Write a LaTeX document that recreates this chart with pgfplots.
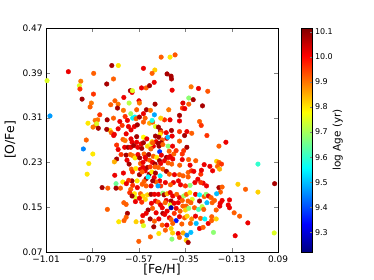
\documentclass[border=0pt]{standalone}
\usepackage{pgfplots}
\pgfplotsset{compat=1.18}
\usepackage{fontspec}
\setmainfont{DejaVu Sans}
\begin{document}
\begin{tikzpicture}
\useasboundingbox (-46bp,-28bp) rectangle (328bp,252bp);
\begin{axis}[
  at={(0,0)}, anchor=south west,
  scale only axis, width=232bp, height=224bp,
  xmin=-1.01, xmax=0.09, ymin=0.07, ymax=0.47,
  xtick={-1.01,-0.79,-0.57,-0.35,-0.13,0.09},
  xticklabels={−1.01,−0.79,−0.57,−0.35,−0.13,0.09},
  ytick={0.07,0.15,0.23,0.31,0.39,0.47},
  yticklabels={0.07,0.15,0.23,0.31,0.39,0.47},
  tick label style={font=\fontsize{9}{10}\selectfont},
  label style={font=\fontsize{12.5}{14}\selectfont},
  xlabel style={yshift=5bp},
  axis line style={line width=0.8bp},
  major tick length=4bp,
  xlabel={[Fe/H]}, ylabel={[O/Fe]},
  colormap/jet,
  point meta min=9.222, point meta max=10.115,
  colorbar,
  colorbar style={
    at={(parent axis.north east)}, anchor=north west, xshift=15bp,
    width=11bp,
    ytick={9.3,9.4,9.5,9.6,9.7,9.8,9.9,10.0,10.1},
    yticklabels={9.3,9.4,9.5,9.6,9.7,9.8,9.9,10.0,10.1},
    ytick pos=right, yticklabel pos=right, ytick align=inside,
    major tick length=3bp,
    yticklabel style={font=\fontsize{8}{9}\selectfont, xshift=-1bp},
    ylabel={log Age (yr)},
    ylabel style={at={(axis description cs:3.3,0.5)}, anchor=center, font=\fontsize{10.5}{12}\selectfont},
  },
]
\addplot[only marks, scatter, mark=*, mark size=2.3bp, point meta=explicit,
  scatter/use mapped color={draw=mapped color, fill=mapped color}]
  table[x=x, y=y, meta=a] {
x y a
-0.464 0.418 9.92
-0.422 0.418 9.80
-0.398 0.422 9.93
-0.698 0.403 10.08
-0.667 0.403 9.80
-0.904 0.392 10.02
-1.005 0.376 9.75
-0.784 0.389 9.92
-0.548 0.398 10.02
-0.494 0.395 9.82
-0.507 0.389 9.92
-0.436 0.388 10.08
-0.417 0.384 10.08
-0.415 0.379 10.08
-0.845 0.375 9.90
-0.690 0.379 9.92
-0.722 0.370 10.08
-0.535 0.363 9.92
-0.557 0.363 10.02
-0.519 0.367 10.08
-0.497 0.373 10.02
-0.852 0.367 9.75
-0.849 0.361 9.96
-0.785 0.352 9.96
-0.839 0.343 10.08
-0.795 0.336 9.90
-0.801 0.329 9.92
-0.412 0.359 10.02
-0.322 0.365 9.90
-0.287 0.362 10.02
-0.243 0.357 9.93
-0.610 0.358 10.08
-0.602 0.355 10.02
-0.600 0.358 9.75
-0.641 0.346 10.02
-0.683 0.340 9.92
-0.333 0.345 9.68
-0.312 0.342 10.08
-0.703 0.333 9.92
-0.616 0.336 9.72
-0.569 0.340 10.02
-0.567 0.336 9.90
-0.493 0.334 10.08
-0.361 0.336 10.03
-0.333 0.334 9.92
-0.268 0.331 10.08
-0.668 0.334 9.90
-0.671 0.327 10.08
-0.643 0.323 9.90
-0.608 0.317 9.70
-0.580 0.324 9.92
-0.534 0.324 10.08
-0.515 0.323 9.90
-0.496 0.315 9.48
-0.428 0.324 9.90
-0.363 0.327 9.96
-0.352 0.326 10.02
-0.377 0.314 10.08
-0.377 0.304 10.02
-0.548 0.317 10.02
-0.540 0.309 9.92
-0.635 0.312 9.96
-0.599 0.309 9.55
-0.589 0.311 9.55
-0.624 0.305 10.02
-0.583 0.308 9.92
-0.567 0.311 10.08
-0.755 0.315 9.96
-0.720 0.306 10.08
-0.690 0.309 9.92
-0.811 0.300 9.80
-0.777 0.305 9.90
-0.765 0.306 9.90
-0.991 0.313 9.47
-0.282 0.303 9.92
-0.274 0.296 9.96
-0.448 0.306 9.96
-0.422 0.306 10.02
-0.466 0.309 9.82
-0.773 0.297 9.92
-0.787 0.293 9.90
-0.770 0.299 9.75
-0.762 0.291 10.08
-0.706 0.287 9.80
-0.722 0.289 10.08
-0.700 0.283 9.92
-0.686 0.280 10.02
-0.649 0.296 9.96
-0.619 0.294 10.02
-0.607 0.288 10.02
-0.591 0.294 10.02
-0.577 0.297 10.08
-0.548 0.302 9.92
-0.519 0.300 9.85
-0.504 0.302 9.92
-0.491 0.294 9.75
-0.507 0.305 9.58
-0.477 0.293 10.08
-0.467 0.287 10.08
-0.464 0.284 9.92
-0.469 0.280 9.80
-0.440 0.283 10.02
-0.415 0.287 10.08
-0.377 0.285 9.96
-0.353 0.278 10.08
-0.342 0.285 10.02
-0.319 0.282 9.92
-0.247 0.278 9.96
-0.660 0.303 10.02
-0.668 0.290 10.02
-0.630 0.281 10.02
-0.819 0.270 9.92
-0.689 0.278 10.02
-0.645 0.271 9.92
-0.635 0.269 9.90
-0.607 0.272 10.02
-0.580 0.276 10.08
-0.548 0.275 9.78
-0.532 0.272 10.02
-0.507 0.267 9.82
-0.491 0.277 10.08
-0.475 0.275 10.08
-0.459 0.270 9.92
-0.437 0.273 10.02
-0.432 0.275 9.50
-0.412 0.277 10.02
-0.377 0.268 9.92
-0.580 0.266 10.02
-0.559 0.263 10.02
-0.548 0.265 10.08
-0.501 0.259 10.02
-0.488 0.267 10.02
-0.478 0.264 10.08
-0.464 0.265 10.08
-0.431 0.259 9.68
-0.410 0.259 10.02
-0.342 0.257 10.08
-0.190 0.259 9.92
-0.157 0.266 10.02
-0.833 0.254 9.45
-0.675 0.261 9.96
-0.637 0.257 10.02
-0.621 0.257 10.08
-0.608 0.257 10.02
-0.602 0.266 10.02
-0.594 0.260 10.08
-0.575 0.257 10.02
-0.556 0.255 10.08
-0.529 0.259 9.82
-0.513 0.263 9.75
-0.513 0.254 9.92
-0.505 0.265 9.92
-0.474 0.259 10.08
-0.471 0.249 9.38
-0.456 0.262 9.92
-0.426 0.250 9.92
-0.357 0.251 9.96
-0.788 0.245 9.80
-0.807 0.228 9.80
-0.815 0.209 9.80
-0.668 0.253 10.02
-0.675 0.236 10.08
-0.686 0.231 9.85
-0.654 0.244 9.96
-0.630 0.243 10.08
-0.610 0.244 9.92
-0.599 0.242 9.90
-0.588 0.238 9.80
-0.574 0.244 10.02
-0.566 0.238 10.08
-0.545 0.245 9.92
-0.540 0.239 10.02
-0.523 0.244 10.08
-0.501 0.241 9.92
-0.485 0.239 9.80
-0.463 0.243 10.02
-0.439 0.239 10.08
-0.428 0.239 10.02
-0.420 0.241 10.02
-0.409 0.236 10.02
-0.404 0.245 9.92
-0.393 0.251 9.96
-0.364 0.245 9.96
-0.364 0.235 10.02
-0.626 0.234 10.02
-0.616 0.227 10.08
-0.562 0.228 9.92
-0.550 0.230 10.02
-0.535 0.236 10.02
-0.519 0.234 9.92
-0.505 0.230 10.02
-0.493 0.227 10.08
-0.472 0.233 10.08
-0.466 0.228 10.02
-0.448 0.233 10.02
-0.431 0.229 9.92
-0.414 0.227 9.92
-0.376 0.225 9.92
-0.334 0.235 9.92
-0.327 0.225 10.02
-0.300 0.233 9.92
-0.201 0.232 9.82
-0.190 0.230 9.92
-0.178 0.227 9.96
-0.005 0.227 9.60
-0.197 0.223 9.92
-0.187 0.218 9.85
-0.260 0.226 10.02
-0.233 0.223 10.02
-0.220 0.215 10.02
-0.643 0.211 10.02
-0.684 0.207 10.02
-0.605 0.218 9.92
-0.600 0.213 9.96
-0.584 0.219 9.80
-0.562 0.218 10.02
-0.550 0.221 10.02
-0.540 0.215 10.02
-0.529 0.221 10.08
-0.516 0.222 9.96
-0.493 0.222 9.92
-0.477 0.221 9.92
-0.456 0.218 9.92
-0.439 0.214 10.08
-0.425 0.209 9.92
-0.401 0.208 10.02
-0.377 0.208 9.92
-0.360 0.206 9.92
-0.336 0.212 9.92
-0.320 0.215 9.96
-0.309 0.214 10.02
-0.276 0.209 9.96
-0.273 0.216 10.02
-0.567 0.208 10.08
-0.554 0.213 9.92
-0.521 0.209 10.08
-0.508 0.213 9.80
-0.491 0.211 10.08
-0.469 0.206 9.55
-0.497 0.203 10.02
-0.535 0.201 10.08
-0.526 0.204 9.55
-0.602 0.197 10.08
-0.578 0.197 9.80
-0.545 0.196 9.92
-0.618 0.198 9.96
-0.646 0.195 9.80
0.074 0.192 10.08
-0.100 0.191 9.82
-0.064 0.182 9.92
-0.005 0.177 9.82
-0.190 0.185 10.08
-0.175 0.186 9.92
-0.183 0.177 9.92
-0.201 0.174 9.50
-0.249 0.188 10.02
-0.265 0.193 10.02
-0.276 0.194 9.96
-0.290 0.200 10.02
-0.304 0.194 10.02
-0.327 0.189 9.68
-0.349 0.188 9.96
-0.372 0.190 10.02
-0.382 0.197 10.02
-0.406 0.194 10.02
-0.420 0.190 9.92
-0.444 0.194 10.02
-0.471 0.197 10.02
-0.466 0.188 9.96
-0.488 0.195 9.92
-0.479 0.188 9.48
-0.504 0.197 10.08
-0.512 0.188 10.02
-0.535 0.188 9.92
-0.554 0.191 9.92
-0.577 0.185 10.02
-0.599 0.189 9.96
-0.608 0.182 9.92
-0.629 0.192 10.02
-0.657 0.184 9.92
-0.678 0.192 9.65
-0.678 0.184 10.08
-0.717 0.184 9.92
-0.744 0.185 10.08
-0.336 0.204 9.92
-0.613 0.176 9.96
-0.591 0.174 9.80
-0.562 0.174 9.92
-0.551 0.170 9.82
-0.529 0.172 9.82
-0.512 0.173 10.08
-0.496 0.173 10.02
-0.477 0.173 10.02
-0.456 0.175 9.68
-0.450 0.172 10.08
-0.436 0.174 9.85
-0.421 0.176 10.02
-0.409 0.170 10.02
-0.390 0.173 9.92
-0.377 0.167 10.02
-0.357 0.170 9.70
-0.344 0.173 9.92
-0.328 0.176 9.80
-0.301 0.173 10.02
-0.282 0.172 9.55
-0.260 0.169 9.92
-0.251 0.173 9.68
-0.240 0.170 10.02
-0.227 0.167 9.92
-0.211 0.162 9.92
-0.175 0.162 10.02
-0.140 0.163 10.02
-0.586 0.167 9.75
-0.567 0.166 10.02
-0.539 0.164 9.82
-0.602 0.170 10.08
-0.586 0.160 10.02
-0.641 0.158 9.92
-0.491 0.161 10.02
-0.478 0.159 9.92
-0.440 0.162 10.02
-0.417 0.161 10.08
-0.383 0.158 10.02
-0.364 0.162 9.92
-0.336 0.161 9.92
-0.317 0.164 9.75
-0.282 0.161 10.08
-0.247 0.158 9.50
-0.184 0.157 10.02
-0.146 0.154 10.02
-0.140 0.149 10.02
-0.719 0.146 9.92
-0.630 0.155 9.92
-0.556 0.159 9.96
-0.510 0.157 10.02
-0.505 0.148 9.92
-0.467 0.154 10.02
-0.459 0.149 10.02
-0.445 0.158 9.92
-0.421 0.154 9.75
-0.417 0.149 9.25
-0.402 0.157 10.02
-0.393 0.148 10.02
-0.361 0.152 9.92
-0.345 0.152 9.92
-0.323 0.158 9.92
-0.306 0.149 9.92
-0.287 0.146 9.62
-0.270 0.151 9.72
-0.262 0.146 9.92
-0.203 0.145 9.92
-0.186 0.152 10.02
-0.222 0.158 9.92
-0.526 0.145 10.08
-0.535 0.139 10.02
-0.488 0.140 10.02
-0.456 0.139 10.08
-0.436 0.143 10.02
-0.402 0.139 9.96
-0.374 0.143 9.92
-0.349 0.145 9.82
-0.333 0.148 9.68
-0.624 0.139 10.08
-0.630 0.132 9.92
-0.665 0.124 9.80
-0.640 0.126 9.92
-0.551 0.135 10.02
-0.516 0.129 10.08
-0.496 0.125 9.92
-0.475 0.129 10.02
-0.447 0.137 10.02
-0.425 0.131 10.02
-0.417 0.128 9.92
-0.393 0.126 9.35
-0.409 0.121 9.92
-0.377 0.133 10.02
-0.353 0.131 9.92
-0.341 0.134 9.82
-0.319 0.129 9.88
-0.301 0.134 10.02
-0.298 0.121 9.50
-0.277 0.130 9.92
-0.257 0.129 9.55
-0.241 0.121 10.02
-0.224 0.133 9.92
-0.203 0.129 9.82
-0.225 0.126 9.92
-0.118 0.140 9.92
-0.092 0.134 9.92
-0.053 0.122 10.02
-0.499 0.115 10.08
-0.554 0.124 9.92
-0.583 0.124 9.82
-0.548 0.117 9.75
-0.459 0.118 9.92
-0.437 0.118 10.02
-0.417 0.112 9.82
-0.366 0.120 9.92
-0.325 0.121 9.92
-0.282 0.112 10.02
-0.265 0.114 9.92
-0.216 0.105 9.68
0.072 0.104 9.75
-0.113 0.099 10.02
-0.515 0.097 9.92
-0.475 0.103 9.80
-0.444 0.109 9.92
-0.410 0.104 9.82
-0.383 0.103 10.02
-0.360 0.104 9.85
-0.342 0.100 9.45
-0.323 0.105 9.50
-0.413 0.093 9.68
-0.377 0.096 9.92
-0.570 0.089 9.92
-0.345 0.091 9.82
-0.336 0.087 10.08
};
\end{axis}
\end{tikzpicture}
\end{document}
